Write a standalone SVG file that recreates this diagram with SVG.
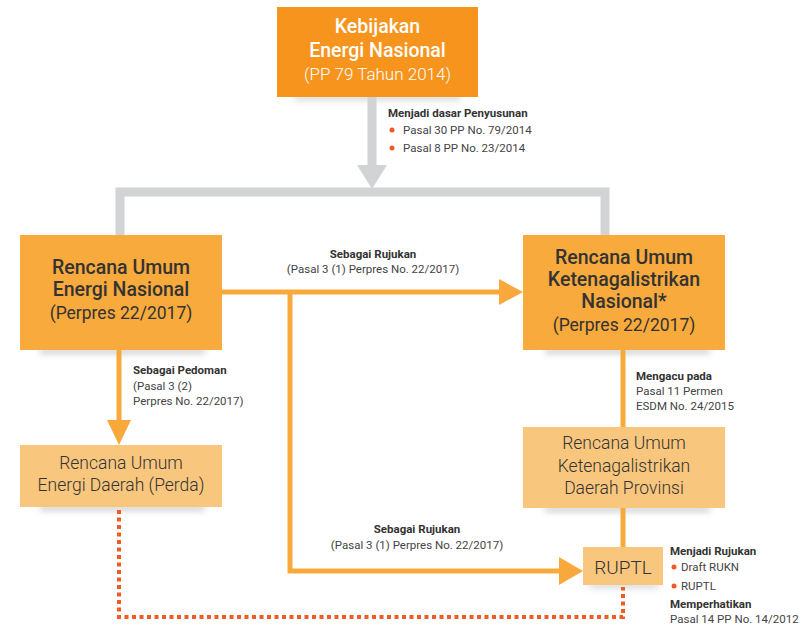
<svg xmlns="http://www.w3.org/2000/svg" width="802" height="628" viewBox="0 0 802 628">
<style>
.wt{font-family:Roboto,"Liberation Sans",sans-serif;fill:#ffffff;text-anchor:middle;}
.bt{font-family:Roboto,"Liberation Sans",sans-serif;fill:#333333;text-anchor:middle;}
.lb{font-family:Roboto,"Liberation Sans",sans-serif;fill:#333333;font-size:11.5px;font-weight:700;}
.lr{font-family:Roboto,"Liberation Sans",sans-serif;fill:#444444;font-size:11.5px;}
.gray{fill:none;stroke:#D1D3D4;stroke-width:9;}
.or{fill:none;stroke:#F9A93B;stroke-width:5;}
.orf{fill:#F9A93B;}
.dot{fill:none;stroke:#F15A24;stroke-width:4;stroke-dasharray:4 3.5;}
.b1{fill:#F7941D;}
.b2{fill:#F9AA3C;}
.b3{fill:#F9C67D;}
.bul{fill:#F15A24;}
</style>
<defs>
<filter id="sh" x="-20%" y="-50%" width="140%" height="200%">
<feGaussianBlur stdDeviation="3"/>
</filter>
</defs>
<rect width="802" height="628" fill="#ffffff"/>

<g id="shadows" fill="#9a9a9a" opacity="0.45" filter="url(#sh)">
<rect x="40" y="348" width="165" height="6"/>
<rect x="545" y="348" width="165" height="6"/>
<rect x="40" y="505" width="165" height="6"/>
<rect x="545" y="506" width="165" height="6"/>
<rect x="590" y="583" width="68" height="5"/>
<rect x="295" y="95" width="165" height="5"/>
</g>

<g id="connectors">
<path class="gray" d="M372,97 V170"/>
<polygon fill="#D1D3D4" points="357,165 387,165 372,189"/>
<path class="gray" d="M120,235 V192 H605 V235"/>
<path class="or" d="M222,292 H502"/>
<polygon class="orf" points="499,279 523,292 499,305"/>
<path class="or" d="M290,292 V571 H562"/>
<polygon class="orf" points="559,557 583,571 559,585"/>
<path class="or" d="M119,350 V424"/>
<polygon class="orf" points="107,420 131,420 119,445"/>
<path class="or" d="M623,350 V427"/>
<path class="or" d="M623,508 V547"/>
<path class="dot" d="M119,510 V617 H623 V587"/>
</g>

<g id="kebijakan">
<rect class="b1" x="277" y="7" width="201" height="90"/>
<text class="wt" x="377.5" y="33" font-size="19.5" font-weight="500">Kebijakan</text>
<text class="wt" x="377.5" y="57" font-size="19.5" font-weight="500">Energi Nasional</text>
<text class="wt" x="377.5" y="80" font-size="17" font-weight="300">(PP 79 Tahun 2014)</text>
</g>

<g id="label-dasar">
<text class="lb" x="388" y="117">Menjadi dasar Penyusunan</text>
<circle class="bul" cx="392" cy="130" r="2.5"/>
<text class="lr" x="403" y="134">Pasal 30 PP No. 79/2014</text>
<circle class="bul" cx="392" cy="148" r="2.5"/>
<text class="lr" x="403" y="152">Pasal 8 PP No. 23/2014</text>
</g>

<g id="ruen">
<rect class="b2" x="20" y="235" width="202" height="115"/>
<text class="bt" x="121" y="274" font-size="19.5" font-weight="500">Rencana Umum</text>
<text class="bt" x="121" y="296" font-size="19.5" font-weight="500">Energi Nasional</text>
<text class="bt" x="121" y="319" font-size="17.5">(Perpres 22/2017)</text>
</g>

<g id="rukn">
<rect class="b2" x="523" y="235" width="202" height="115"/>
<text class="bt" x="624" y="264" font-size="19.5" font-weight="500">Rencana Umum</text>
<text class="bt" x="624" y="286" font-size="19.5" font-weight="500">Ketenagalistrikan</text>
<text class="bt" x="624" y="308" font-size="19.5" font-weight="500">Nasional*</text>
<text class="bt" x="624" y="331" font-size="17.5">(Perpres 22/2017)</text>
</g>

<g id="label-rujukan1">
<text class="lb" x="373" y="258" text-anchor="middle">Sebagai Rujukan</text>
<text class="lr" x="373" y="273" text-anchor="middle">(Pasal 3 (1) Perpres No. 22/2017)</text>
</g>

<g id="label-pedoman">
<text class="lb" x="133" y="374">Sebagai Pedoman</text>
<text class="lr" x="133" y="390">(Pasal 3 (2)</text>
<text class="lr" x="133" y="405">Perpres No. 22/2017)</text>
</g>

<g id="label-mengacu">
<text class="lb" x="636" y="380">Mengacu pada</text>
<text class="lr" x="636" y="395">Pasal 11 Permen</text>
<text class="lr" x="636" y="410">ESDM No. 24/2015</text>
</g>

<g id="rued">
<rect class="b3" x="20" y="445" width="202" height="62"/>
<text class="bt" x="121" y="469" font-size="17.5" font-weight="300">Rencana Umum</text>
<text class="bt" x="121" y="491" font-size="17.5" font-weight="300">Energi Daerah (Perda)</text>
</g>

<g id="rukd">
<rect class="b3" x="523" y="427" width="202" height="81"/>
<text class="bt" x="624" y="449" font-size="17.5" font-weight="300">Rencana Umum</text>
<text class="bt" x="624" y="472" font-size="17.5" font-weight="300">Ketenagalistrikan</text>
<text class="bt" x="624" y="494" font-size="17.5" font-weight="300">Daerah Provinsi</text>
</g>

<g id="label-rujukan2">
<text class="lb" x="417" y="533" text-anchor="middle">Sebagai Rujukan</text>
<text class="lr" x="417" y="549" text-anchor="middle">(Pasal 3 (1) Perpres No. 22/2017)</text>
</g>

<g id="ruptl">
<rect class="b3" x="583" y="547" width="80" height="38"/>
<text class="bt" x="623" y="574" font-size="19" font-weight="300">RUPTL</text>
</g>

<g id="label-ruptl">
<text class="lb" x="670" y="555">Menjadi Rujukan</text>
<circle class="bul" cx="674" cy="567" r="2.5"/>
<text class="lr" x="681" y="571">Draft RUKN</text>
<circle class="bul" cx="674" cy="586" r="2.5"/>
<text class="lr" x="681" y="590">RUPTL</text>
<text class="lb" x="670" y="608">Memperhatikan</text>
<text class="lr" x="670" y="623">Pasal 14 PP No. 14/2012</text>
</g>
</svg>
